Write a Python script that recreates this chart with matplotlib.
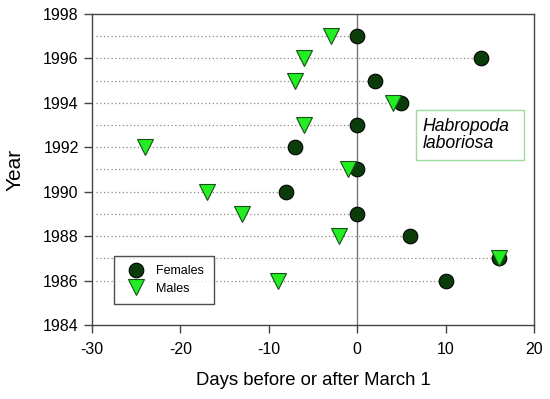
import matplotlib
matplotlib.use('Agg')
import matplotlib.pyplot as plt
from matplotlib.patches import Rectangle

plt.rcParams['font.family'] = ['Liberation Sans', 'DejaVu Sans']
plt.rcParams['axes.unicode_minus'] = False

# arrival dates, days relative to March 1
years = [1997, 1996, 1995, 1994, 1993, 1992, 1991, 1990, 1989, 1988, 1987, 1986]
females = [0, 14, 2, 5, 0, -7, 0, -8, 0, 6, 16, 10]
males = [-3, -6, -7, 4, -6, -24, -1, -17, -13, -2, 16, -9]

xticks = [-30, -20, -10, 0, 10, 20]
yticks = [1984, 1986, 1988, 1990, 1992, 1994, 1996, 1998]

fig = plt.figure(figsize=(5.5, 3.99), dpi=100)
ax = fig.add_axes([0.167, 0.1855, 0.804, 0.7795])

# dotted guide lines from the left edge to the later of the two dates
for y, f, m in zip(years, females, males):
    ax.plot([-29.5, max(f, m)], [y, y], ls=(0, (1, 2)), color='#888888', lw=0.9, zorder=1)

ax.axvline(0, color='#777777', lw=1.0, zorder=1)

ax.plot(females, years, 'o', ms=10.5, mfc='#0b3d0b', mec='#000000', mew=0.8,
        ls='none', label='Females', zorder=3)
ax.plot(males, years, 'v', ms=11.5, mfc='#22ee22', mec='#1a4d1a', mew=0.8,
        ls='none', label='Males', zorder=4)

ax.set_xlim(-30, 20)
ax.set_ylim(1984, 1998)
ax.set_xticks(xticks)
ax.set_yticks(yticks)
ax.tick_params(direction='out', length=6, width=1, color='#444444', labelsize=11.5)
ax.tick_params(axis='x', pad=6)
for s in ax.spines.values():
    s.set_color('#444444')
    s.set_linewidth(1.0)

ax.set_xlabel('Days before or after March 1', fontsize=13.3, labelpad=11)
ax.set_ylabel('Year', fontsize=15, labelpad=13)

leg = ax.legend(loc='lower left', bbox_to_anchor=(0.05, 0.067), fontsize=9,
                frameon=True, fancybox=False, edgecolor='#222222',
                borderpad=0.75, handletextpad=0.65, labelspacing=0.45,
                handlelength=2.0, borderaxespad=0)
leg.get_frame().set_linewidth(1.0)

# species label in a light green box
ax.add_patch(Rectangle((0.733, 0.531), 0.244, 0.160, transform=ax.transAxes,
                       fc='white', ec='#99dd99', lw=1.0, zorder=5))
ax.text(0.748, 0.611, 'Habropoda\nlaboriosa', transform=ax.transAxes, fontsize=12.7,
        style='italic', va='center', ha='left', linespacing=1.0, zorder=6)

fig.savefig('out.png', dpi=100)
